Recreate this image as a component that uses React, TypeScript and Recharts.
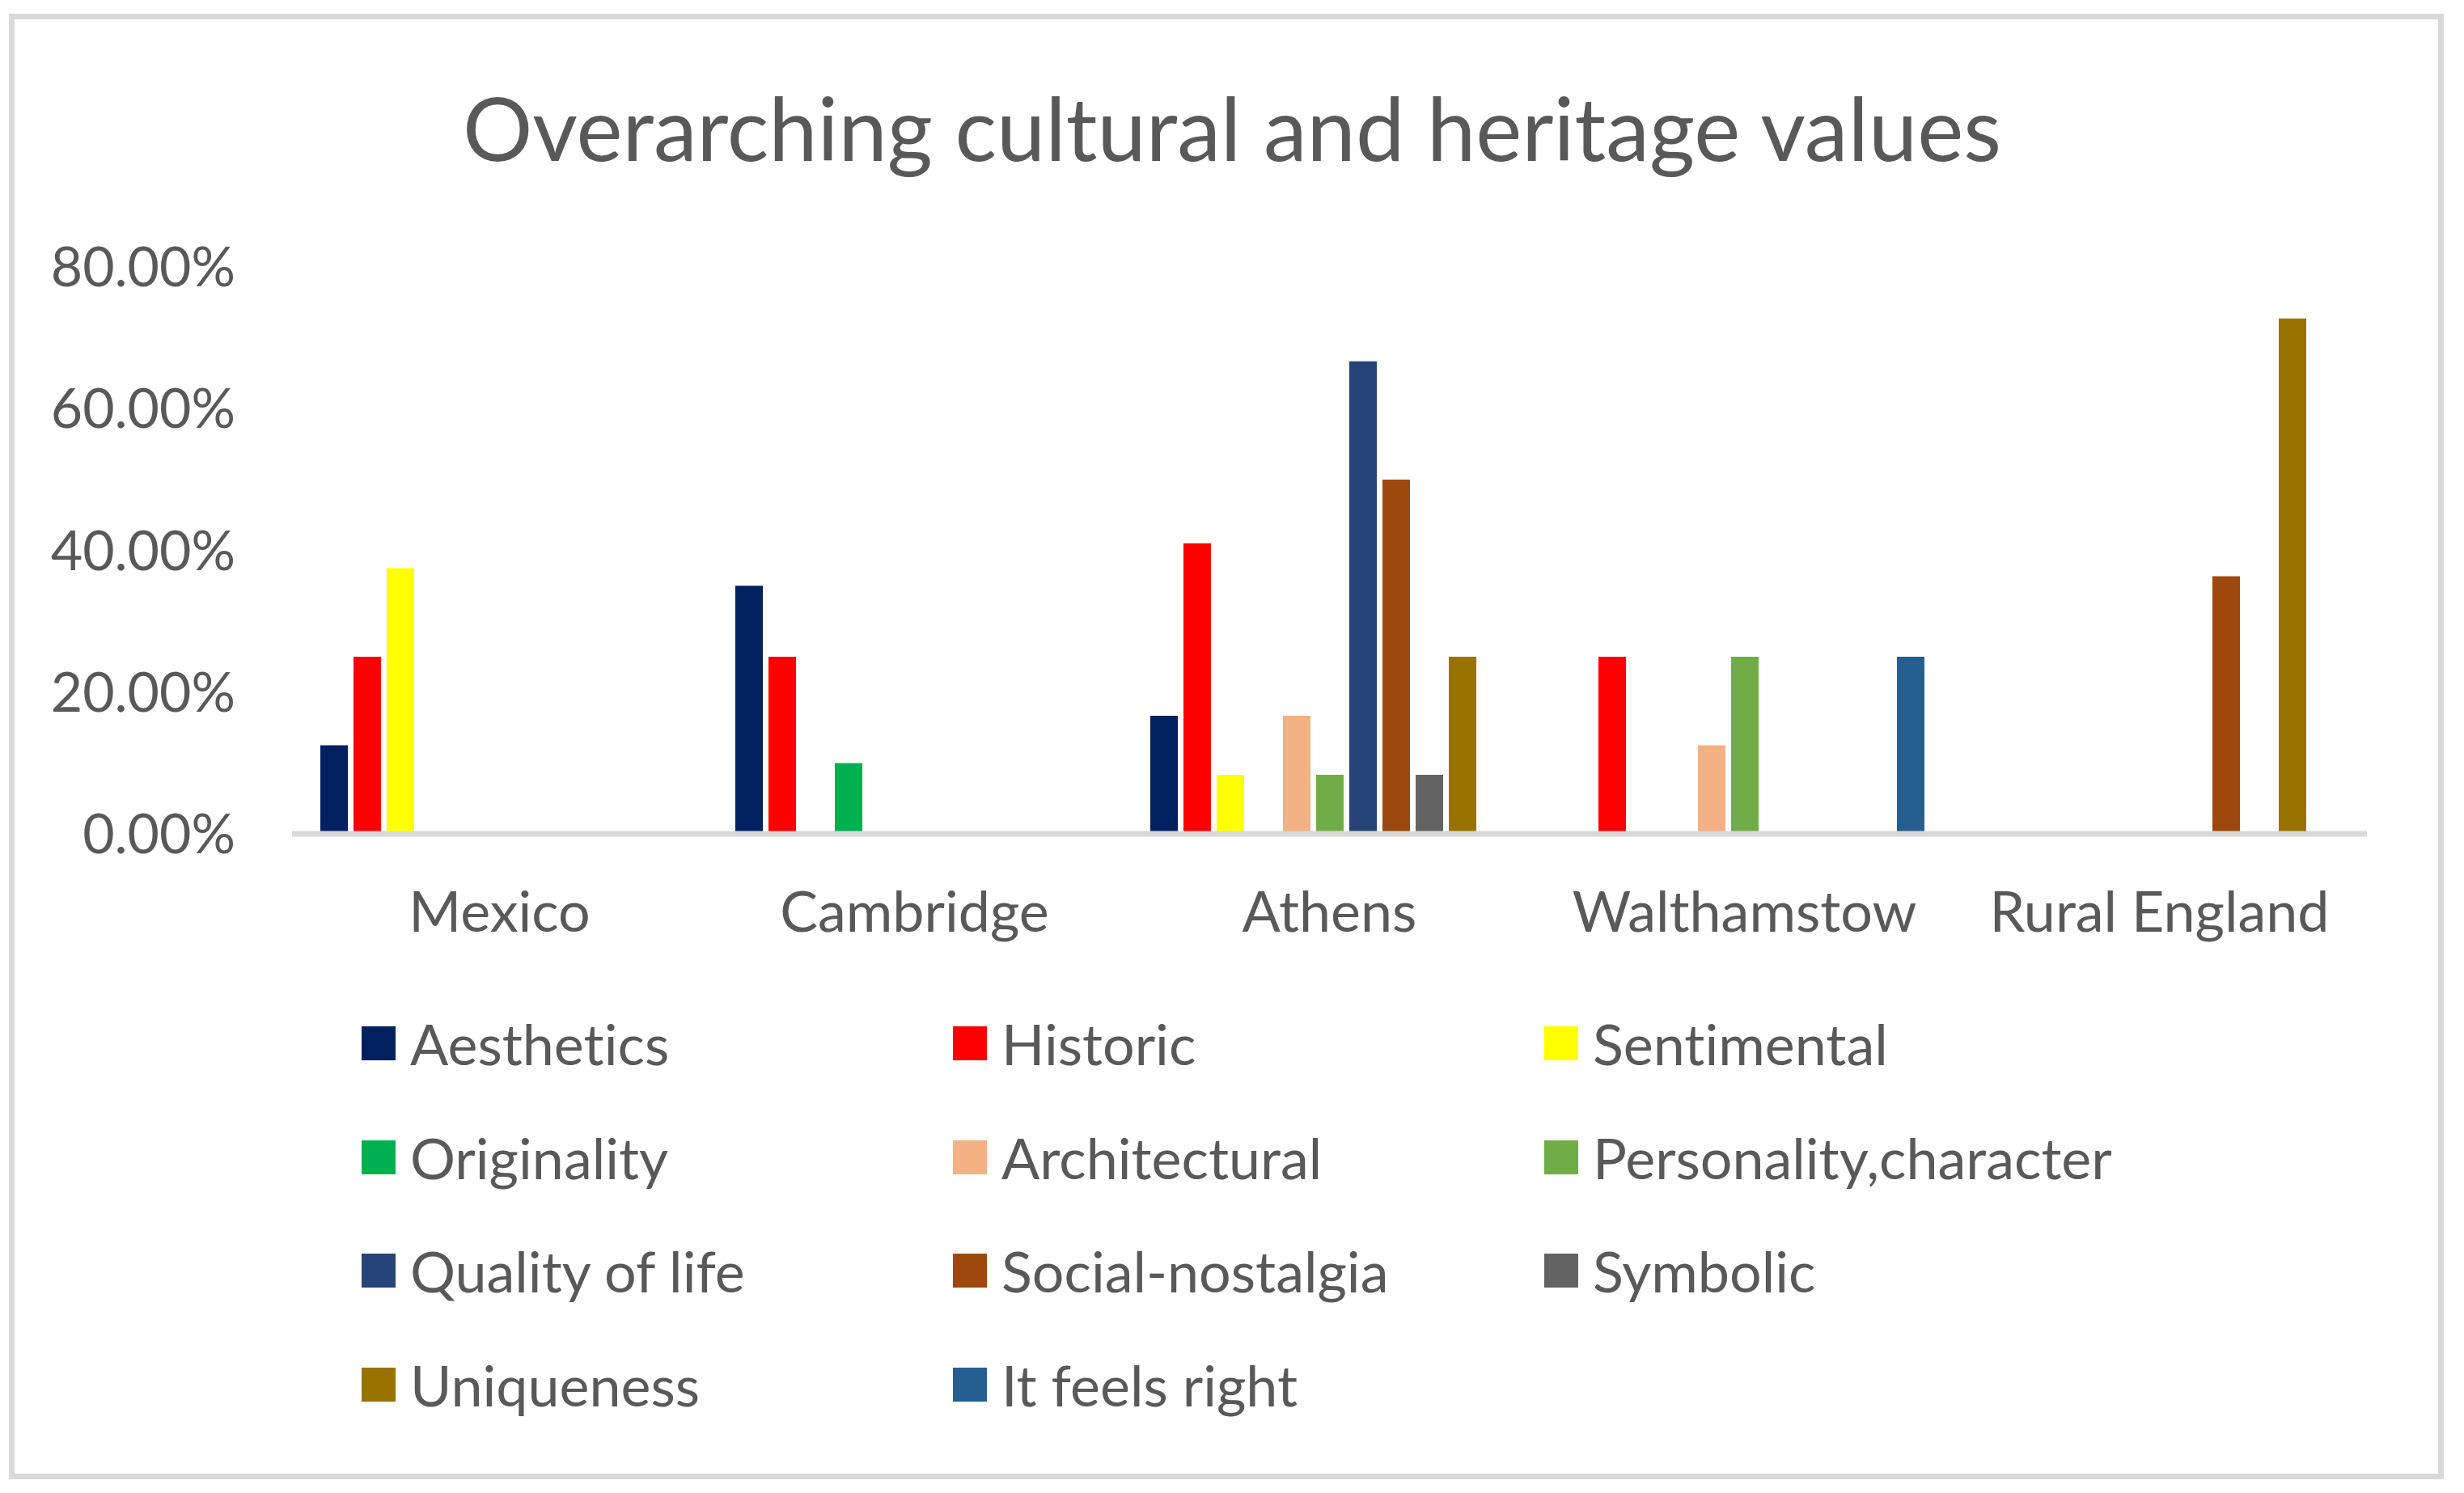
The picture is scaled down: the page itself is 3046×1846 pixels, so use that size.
import React from "react"
import { BarChart, Bar, XAxis, YAxis, CartesianGrid, Legend } from "recharts"

const categories = ["Mexico", "Cambridge", "Athens", "Walthamstow", "Rural England"]

const aesthetics = [12.5, 35, 16.67, null, null]
const historic = [25, 25, 41, 25, null]
const sentimental = [37.5, null, 8.33, null, null]
const originality = [null, 10, null, null, null]
const architectural = [null, null, 16.67, 12.5, null]
const personality = [null, null, 8.33, 25, null]
const qualityOfLife = [null, null, 66.67, null, null]
const socialNostalgia = [null, null, 50, null, 36.36]
const symbolic = [null, null, 8.33, null, null]
const uniqueness = [null, null, 25, null, 72.73]
const itFeelsRight = [null, null, null, 25, null]

const yTicks = [0, 20, 40, 60, 80]

const series = [
  { key: "Aesthetics", values: aesthetics, color: "#002060" },
  { key: "Historic", values: historic, color: "#FF0000" },
  { key: "Sentimental", values: sentimental, color: "#FFFF00" },
  { key: "Originality", values: originality, color: "#00B050" },
  { key: "Architectural", values: architectural, color: "#F4B183" },
  { key: "Personality,character", values: personality, color: "#70AD47" },
  { key: "Quality of life", values: qualityOfLife, color: "#264478" },
  { key: "Social-nostalgia", values: socialNostalgia, color: "#9E480E" },
  { key: "Symbolic", values: symbolic, color: "#636363" },
  { key: "Uniqueness", values: uniqueness, color: "#997300" },
  { key: "It feels right", values: itFeelsRight, color: "#255E91" },
]

const data = categories.map((name, i) => {
  const row: Record<string, any> = { name }
  series.forEach((s) => {
    row[s.key] = s.values[i]
  })
  return row
})

const FONT = "Lato, 'Noto Sans', sans-serif"
const TEXT = "#595959"
const GRID = "#D9D9D9"
const order = series.map((s) => s.key)

function renderLegend(props: any) {
  // keep the series order, not alphabetical
  const items = [...(props.payload || [])].sort(
    (a: any, b: any) => order.indexOf(a.value) - order.indexOf(b.value)
  )
  return (
    <div style={{ position: "relative", width: 3046, height: 520, fontFamily: FONT }}>
      {items.map((item: any, i: number) => {
        const col = i % 3
        const row = Math.floor(i / 3)
        return (
          <div
            key={item.value}
            style={{
              position: "absolute",
              left: 447 + col * 731,
              top: 19 + row * 140.7,
              height: 42,
              display: "flex",
              alignItems: "center",
              whiteSpace: "nowrap",
            }}
          >
            <span style={{ width: 42, height: 42, background: item.color, display: "inline-block" }} />
            <span
              style={{
                marginLeft: 18,
                fontSize: 70,
                color: TEXT,
                lineHeight: "80px",
                fontVariantLigatures: "none",
              }}
            >
              {item.value}
            </span>
          </div>
        )
      })}
    </div>
  )
}

export default function App() {
  return (
    <div style={{ position: "relative", width: 3046, height: 1846, background: "#fff" }}>
      <style>{"body{margin:0} svg text{font-variant-ligatures:none}"}</style>
      <BarChart
        width={3046}
        height={1846}
        data={data}
        margin={{ top: 330, right: 120, bottom: 665, left: 0 }}
        barCategoryGap={35}
        barGap={7}
      >
        <rect x={14.5} y={20.5} width={3003} height={1805} fill="#fff" stroke={GRID} strokeWidth={7} />
        <text
          x={1523}
          y={199}
          textAnchor="middle"
          fontFamily={FONT}
          fontSize={108}
          fill={TEXT}
        >
          Overarching cultural and heritage values
        </text>
        <CartesianGrid vertical={false} stroke={GRID} strokeWidth={7} />
        <YAxis
          width={361}
          domain={[0, 80]}
          ticks={yTicks}
          axisLine={false}
          tickLine={false}
          tickSize={0}
          tickMargin={70}
          tickFormatter={(v: number) => `${v.toFixed(2)}%`}
          tick={{ fill: TEXT, fontSize: 68, fontFamily: FONT }}
        />
        {series.map((s) => (
          <Bar key={s.key} dataKey={s.key} fill={s.color} isAnimationActive={false} />
        ))}
        <XAxis
          dataKey="name"
          height={150}
          axisLine={{ stroke: GRID, strokeWidth: 7 }}
          tickLine={false}
          tickSize={0}
          tickMargin={71}
          tick={{ fill: TEXT, fontSize: 70, fontFamily: FONT }}
          interval={0}
        />
        <Legend
          layout="horizontal"
          verticalAlign="middle"
          align="center"
          content={renderLegend}
          wrapperStyle={{ left: 0, top: 1250, width: 3046, height: 520 }}
        />
      </BarChart>
    </div>
  )
}
